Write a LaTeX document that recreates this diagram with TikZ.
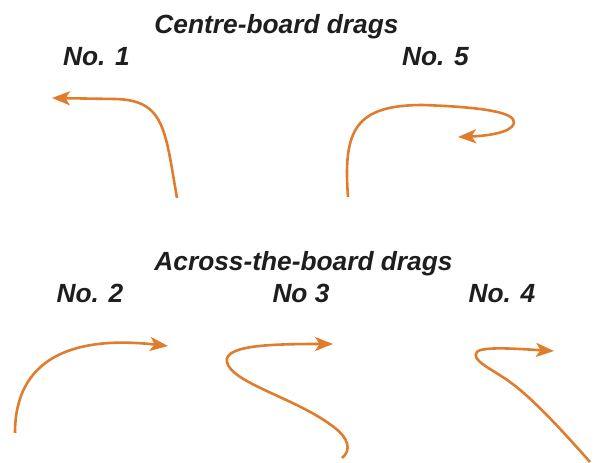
\documentclass[tikz,border=0pt]{standalone}
\usepackage{fontspec}
\setmainfont{Liberation Sans}
\usetikzlibrary{arrows.meta}
\definecolor{dragorange}{RGB}{224,124,44}
\definecolor{labelgray}{RGB}{30,30,30}
\begin{document}
\begin{tikzpicture}[x=1pt,y=-1pt,
  lbl/.style={anchor=base,inner sep=0pt,text=labelgray,font=\fontsize{26.3}{30}\selectfont\bfseries\itshape},
  drag/.style={draw=dragorange,line width=2.6pt,
    -{Stealth[length=18pt,width=14pt,inset=4.5pt,fill=dragorange]}}]
\useasboundingbox (0,0) rectangle (595,463);
% headings
\node[lbl] (t1) at (276.5,34) {Centre-board drags};
\node[lbl] (n1) at (96.5,65) {No. 1};
\node[lbl] (n5) at (435.5,65) {No. 5};
\node[lbl] (t2) at (303.5,270) {Across-the-board drags};
\node[lbl] (n2) at (90,302) {No. 2};
\node[lbl] (n3) at (301,302) {No 3};
\node[lbl] (n4) at (502,302) {No. 4};
% end points
\coordinate (a1s) at (177,198);
\coordinate (a1e) at (52,98);
\coordinate (a5s) at (348,197);
\coordinate (a5e) at (458,137);
\coordinate (a2s) at (15,433);
\coordinate (a2e) at (168,346);
\coordinate (a3s) at (342,458);
\coordinate (a3e) at (333,344);
\coordinate (a4s) at (590,462);
\coordinate (a4e) at (554,351);
% No. 1
\draw[drag] (a1s) .. controls (165,130) and (165,100) .. (115,99) -- (a1e);
% No. 5
\draw[drag] (a5s) .. controls (343,130) and (355,105) .. (423,105)
  .. controls (480,107) and (516,112) .. (514,123)
  .. controls (512,133) and (485,136) .. (a5e);
% No. 2
\draw[drag] (a2s) .. controls (15,360) and (70,335) .. (a2e);
% No 3
\draw[drag] (a3s) .. controls (352,450) and (348,438) .. (335,428)
  .. controls (300,400) and (238,385) .. (228,365)
  .. controls (218,345) and (270,344) .. (a3e);
% No. 4
\draw[drag] (a4s) .. controls (560,428) and (532,398) .. (510,382)
  .. controls (492,369) and (470,360) .. (477,352)
  .. controls (482,346) and (520,349) .. (a4e);
\end{tikzpicture}
\end{document}
